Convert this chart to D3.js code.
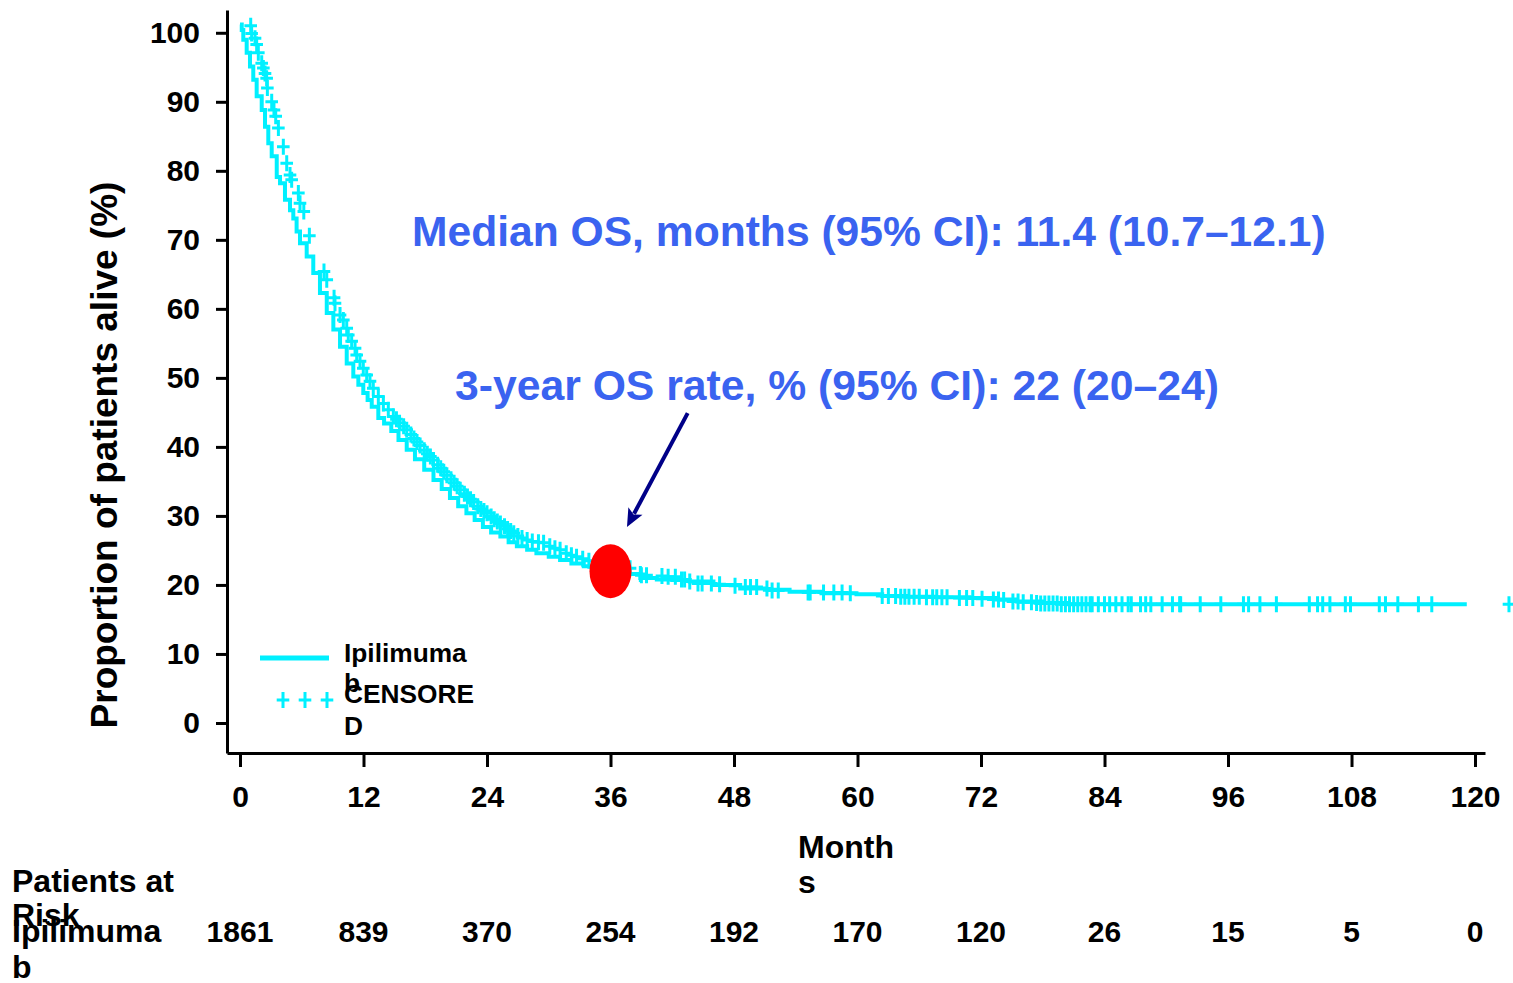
<!DOCTYPE html>
<html>
<head>
<meta charset="utf-8">
<script src="https://cdn.jsdelivr.net/npm/d3@7"></script>
<style>
  html, body { margin: 0; padding: 0; background: #fff; }
  svg { display: block; }
  text { font-family: "Liberation Sans", Arial, sans-serif; font-weight: bold; }
</style>
</head>
<body>
<svg id="chart" width="1513" height="983"></svg>
<script>
// Kaplan–Meier overall survival, ipilimumab (months, % alive)
const kmCurve = [
  [0,101.2],[0.17,100.4],[0.32,99.0],[0.65,97.1],[0.97,95.1],[1.29,93.2],[1.62,90.8],
  [2.11,88.8],[2.43,86.4],[2.75,84.0],[3.08,82.1],[3.57,79.1],[3.89,78.2],[4.37,75.8],
  [4.86,74.3],[5.18,73.1],[5.5,71.2],[5.83,69.5],[6.48,67.6],[7.12,65.2],[7.77,62.3],
  [8.43,59.4],[9.07,57.0],[9.72,54.5],[10.37,52.1],[11.01,50.2],[11.5,49.0],[11.98,47.8],
  [12.4,46.8],[12.8,45.8],[13.44,44.2],[14.0,43.4],[14.7,42.3],[15.4,41.0],[16.2,39.6],
  [17.0,38.2],[17.9,36.7],[18.8,35.2],[19.6,33.9],[20.4,32.6],[21.2,31.4],[22.0,30.4],
  [22.8,29.4],[23.6,28.4],[24.4,27.6],[25.3,27.0],[26.1,26.2],[26.9,25.6],[27.9,25.1],
  [28.8,24.6],[30.0,24.1],[31.1,23.6],[32.2,23.1],[33.4,22.7],[34.6,22.3],[35.8,21.9],
  [37.0,21.6],[38.9,21.0],[40.5,20.8],[42.0,20.7],[43.7,20.5],[46.0,20.0],[48.6,19.5],
  [51.0,19.3],[53.4,19.0],[56.5,18.8],[59.9,18.65],[62.4,18.4],[64.8,18.3],[67.5,18.2],
  [70.9,18.1],[73.5,17.9],[75.5,17.6],[78.0,17.4],[80.5,17.2],[119.2,17.2]
];

// Censored observations (months, % alive)
const censored = [
  [1.04,101.0],[1.13,99.9],[1.46,99.2],[1.62,98.3],[1.78,97.1],[2.11,95.6],[2.27,94.9],
  [2.43,94.1],[2.59,93.4],[2.66,92.0],[3.08,90.0],[3.30,88.8],[3.47,87.9],[3.73,86.2],
  [4.21,83.5],[4.54,81.1],[4.86,79.4],[5.02,78.7],[5.67,76.8],[5.83,75.3],[6.2,74.1],
  [6.74,70.6],[8.16,65.4],[8.43,64.2],[9.14,61.6],[9.23,60.8],[9.72,59.1],[10.04,58.4],
  [10.37,57.2],[10.52,56.2],[10.85,55.3],[11.18,54.3],[11.34,53.3],[11.66,52.4],[11.98,51.4],
  [12.31,50.4],[12.63,49.5],[12.95,48.5],[13.44,47.3],[13.93,46.3],[14.41,45.4],[14.9,44.4],
  [15.2,44.0],[15.5,43.5],[15.9,43.0],[16.2,42.5],[16.6,41.8],[16.9,41.2],[17.2,40.7],
  [17.5,40.2],[17.9,39.5],[18.2,39.0],[18.5,38.6],[18.8,38.1],[19.2,37.4],[19.5,36.9],
  [19.8,36.4],[20.1,35.9],[20.5,35.3],[20.8,34.8],[21.1,34.3],[21.4,33.8],[21.8,33.2],
  [22.1,32.8],[22.4,32.4],[22.7,32.0],[23.1,31.4],[23.4,31.0],[23.7,30.7],[24.0,30.4],
  [24.4,29.9],[24.7,29.5],[25.0,29.2],[25.3,28.9],[25.7,28.5],[26.0,28.1],[26.3,27.8],
  [26.6,27.5],[27.0,27.1],[27.4,26.8],[27.9,26.5],[28.4,26.3],[29.0,26.2],[29.5,26.1],
  [30.1,25.6],[30.6,25.3],[31.1,25.1],[31.7,24.6],[32.2,24.3],[32.7,24.1],[33.3,23.8],
  [33.9,23.5],[37.9,22.4],[38.9,21.6],[39.0,21.4],[39.5,21.4],[41.0,21.3],[41.6,21.2],
  [42.3,21.2],[42.9,20.8],[43.2,20.8],[43.7,20.5],[44.5,20.2],[44.9,20.2],[45.8,20.2],
  [46.6,20.1],[48.1,19.9],[49.1,19.7],[49.6,19.7],[50.2,19.7],[51.2,19.5],[51.7,19.2],
  [52.3,19.2],[55.2,18.9],[55.4,18.9],[56.7,18.9],[57.7,18.9],[58.5,18.9],[59.3,18.8],
  [62.4,18.4],[63.0,18.4],[63.7,18.4],[64.2,18.3],[64.6,18.3],[65.0,18.3],[65.5,18.3],
  [66.0,18.3],[66.7,18.2],[67.3,18.2],[67.7,18.2],[68.2,18.2],[68.7,18.2],[69.9,18.1],
  [70.6,18.1],[71.2,18.1],[72.1,18.0],[73.2,17.9],[73.7,17.9],[74.2,17.8],
  [75.1,17.6],[75.6,17.6],[76.1,17.5],[76.9,17.5],[77.4,17.4],
  [77.8,17.3],[78.2,17.3],[78.6,17.3],[79.0,17.3],[79.4,17.3],[79.8,17.2],[80.2,17.2],
  [80.6,17.2],[81.0,17.2],[81.4,17.2],[81.8,17.2],[82.2,17.2],[82.6,17.2],[82.8,17.2],
  [83.4,17.2],[84.0,17.2],[84.5,17.2],[85.1,17.2],[85.7,17.2],[86.3,17.2],[86.6,17.2],
  [87.5,17.2],[88.0,17.2],[88.5,17.2],[89.6,17.2],[90.6,17.2],[91.3,17.2],[91.4,17.2],
  [93.3,17.2],[95.3,17.2],[97.5,17.2],[98.0,17.2],[99.1,17.2],[100.7,17.2],[103.9,17.2],
  [104.7,17.2],[105.2,17.2],[105.9,17.2],[107.4,17.2],[107.9,17.2],[110.7,17.2],[111.3,17.2],
  [112.5,17.2],[114.5,17.2],[115.8,17.2],[123.3,17.2]
];

const yTicks = [0, 10, 20, 30, 40, 50, 60, 70, 80, 90, 100];
const xTicks = [0, 12, 24, 36, 48, 60, 72, 84, 96, 108, 120];
const atRisk = [1861, 839, 370, 254, 192, 170, 120, 26, 15, 5, 0];

// 3-year landmark highlighted on the curve
const landmark = { month: 36, pct: 22 };
// Pointer from the 3-year annotation toward the curve
const pointer = { from: [43.5, 44.9], to: [37.6, 28.4] };

const CYAN = "#00F0FF";
const BLUE_TEXT = "#3A63F0";

const svg = d3.select("#chart");

const x = d3.scaleLinear().domain([-1.263, 120.97]).range([227, 1485]);
const y = d3.scaleLinear().domain([-4.35, 103.3]).range([753, 10]);

// Axes
const yAxis = d3.axisLeft(y).tickValues(yTicks).tickSize(11).tickSizeOuter(0).tickPadding(16);
const xAxis = d3.axisBottom(x).tickValues(xTicks).tickSize(14).tickSizeOuter(0).tickPadding(19);

const gy = svg.append("g").attr("transform", `translate(${x.range()[0]},0)`).call(yAxis);
const gx = svg.append("g").attr("transform", `translate(0,${y.range()[0]})`).call(xAxis);

[gx, gy].forEach(g => {
  g.selectAll("path.domain").attr("stroke", "#000").attr("stroke-width", 3);
  g.selectAll(".tick line").attr("stroke", "#000").attr("stroke-width", 3);
  g.selectAll(".tick text")
    .attr("fill", "#000")
    .style("font-size", "30px")
    .style("font-family", "'Liberation Sans', Arial, sans-serif")
    .style("font-weight", "bold");
});

// Survival step curve
const line = d3.line()
  .x(d => x(d[0]))
  .y(d => y(d[1]))
  .curve(d3.curveStepAfter);

svg.append("path")
  .datum(kmCurve)
  .attr("fill", "none")
  .attr("stroke", CYAN)
  .attr("stroke-width", 4)
  .attr("d", line);

// Censor marks
const plus = "M-6.3,0H6.3M0,-8V8";
svg.append("g")
  .selectAll("path")
  .data(censored)
  .join("path")
  .attr("transform", d => `translate(${x(d[0])},${y(d[1])})`)
  .attr("d", plus)
  .attr("fill", "none")
  .attr("stroke", CYAN)
  .attr("stroke-width", 3);

// 3-year landmark
svg.append("ellipse")
  .attr("cx", x(landmark.month))
  .attr("cy", y(landmark.pct))
  .attr("rx", 21)
  .attr("ry", 27)
  .attr("fill", "#FF0000");

// Arrow
const [ax0, ay0] = [x(pointer.from[0]), y(pointer.from[1])];
const [ax1, ay1] = [x(pointer.to[0]), y(pointer.to[1])];
const ang = Math.atan2(ay1 - ay0, ax1 - ax0);
const headLen = 18, headHalf = 8;
const bx = ax1 - headLen * Math.cos(ang), by = ay1 - headLen * Math.sin(ang);
svg.append("line")
  .attr("x1", ax0).attr("y1", ay0)
  .attr("x2", bx + 3 * Math.cos(ang)).attr("y2", by + 3 * Math.sin(ang))
  .attr("stroke", "#000088").attr("stroke-width", 4);
svg.append("path")
  .attr("d", `M${ax1},${ay1}L${bx - headHalf * Math.sin(ang)},${by + headHalf * Math.cos(ang)}L${bx + 4 * Math.cos(ang)},${by + 4 * Math.sin(ang)}L${bx + headHalf * Math.sin(ang)},${by - headHalf * Math.cos(ang)}Z`)
  .attr("fill", "#000088");

// Annotations
svg.append("text")
  .attr("x", 412).attr("y", 246)
  .attr("fill", BLUE_TEXT)
  .style("font-size", "42.6px")
  .text("Median OS, months (95% CI): 11.4 (10.7\u201312.1)");

svg.append("text")
  .attr("x", 455).attr("y", 400)
  .attr("fill", BLUE_TEXT)
  .style("font-size", "42.7px")
  .text("3-year OS rate, % (95% CI): 22 (20\u201324)");

// Y-axis title
svg.append("text")
  .attr("transform", "translate(117,455) rotate(-90)")
  .attr("text-anchor", "middle")
  .attr("fill", "#000")
  .style("font-size", "37px")
  .text("Proportion of patients alive (%)");

// X-axis title (wrapped)
const monthTitle = svg.append("text").attr("fill", "#000").style("font-size", "32px");
monthTitle.append("tspan").attr("x", 798).attr("y", 858).text("Month");
monthTitle.append("tspan").attr("x", 798).attr("y", 893).text("s");

// Legend
const legend = svg.append("g");
legend.append("line")
  .attr("x1", 260).attr("x2", 329).attr("y1", 658).attr("y2", 658)
  .attr("stroke", CYAN).attr("stroke-width", 5);
legend.selectAll("path.legend-plus")
  .data([283, 305, 327])
  .join("path")
  .attr("class", "legend-plus")
  .attr("transform", d => `translate(${d},700)`)
  .attr("d", plus)
  .attr("fill", "none")
  .attr("stroke", CYAN)
  .attr("stroke-width", 3);
const legText1 = legend.append("text").attr("fill", "#000").style("font-size", "26.3px");
legText1.append("tspan").attr("x", 344).attr("y", 662).text("Ipilimuma");
legText1.append("tspan").attr("x", 344).attr("y", 692).text("b");
const legText2 = legend.append("text").attr("fill", "#000").style("font-size", "26.3px");
legText2.append("tspan").attr("x", 344).attr("y", 703).text("CENSORE");
legText2.append("tspan").attr("x", 344).attr("y", 735).text("D");

// Patients at risk table
const riskHead = svg.append("text").attr("fill", "#000").style("font-size", "32px");
riskHead.append("tspan").attr("x", 12).attr("y", 892).text("Patients at");
riskHead.append("tspan").attr("x", 12).attr("y", 926).text("Risk");
const riskRow = svg.append("text").attr("fill", "#000").style("font-size", "32px");
riskRow.append("tspan").attr("x", 12).attr("y", 942).text("Ipilimuma");
riskRow.append("tspan").attr("x", 12).attr("y", 978).text("b");

svg.append("g")
  .selectAll("text")
  .data(xTicks.map((m, i) => ({ m, n: atRisk[i] })))
  .join("text")
  .attr("x", d => x(d.m))
  .attr("y", 942)
  .attr("text-anchor", "middle")
  .attr("fill", "#000")
  .style("font-size", "30px")
  .text(d => d.n);
</script>
</body>
</html>
